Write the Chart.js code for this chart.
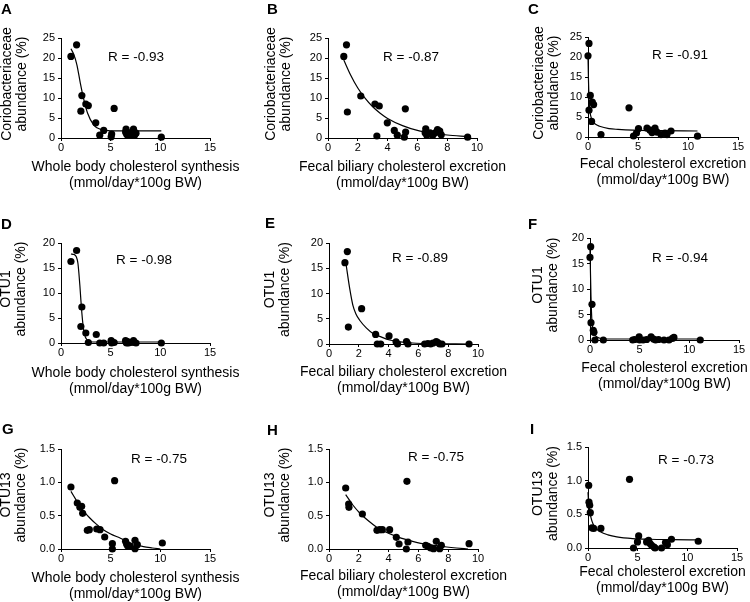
<!DOCTYPE html>
<html>
<head>
<meta charset="utf-8">
<script src="https://cdn.jsdelivr.net/npm/chart.js@4.4.1/dist/chart.umd.min.js"></script>
<style>
  html, body { margin: 0; padding: 0; background: #fff; }
  body { position: relative; width: 750px; height: 602px; overflow: hidden; }
  canvas { position: absolute; }
</style>
</head>
<body>
<canvas id="pA"></canvas><canvas id="pB"></canvas><canvas id="pC"></canvas>
<canvas id="pD"></canvas><canvas id="pE"></canvas><canvas id="pF"></canvas>
<canvas id="pG"></canvas><canvas id="pH"></canvas><canvas id="pI"></canvas>
<script>
// Coriobacteriaceae vs whole body synthesis
const aX = [1.0, 1.57, 2.0, 2.1, 2.5, 2.75, 3.5, 3.9, 4.3, 5.05, 5.1, 5.35, 6.5, 6.55, 6.6, 6.7, 6.8, 7.0, 7.2, 7.3, 7.4, 7.55, 10.1];
const aY = [20.4, 23.3, 6.7, 10.6, 8.5, 8.1, 3.8, 0.7, 1.9, 0.3, 1.0, 7.4, 1.5, 2.2, 1.0, 0.7, 1.3, 0.7, 1.5, 2.2, 0.7, 1.2, 0.2];
const aFitX = [1.0, 1.3, 1.6, 1.94, 2.28, 2.68, 3.28, 3.95, 4.5, 5.0, 7.0, 10.1];
const aFitY = [22.3, 20.8, 18.3, 13.8, 9.8, 6.2, 3.3, 2.2, 1.9, 1.8, 1.8, 1.8];

// Coriobacteriaceae vs fecal biliary excretion
const bX = [1.06, 1.24, 1.3, 2.2, 3.15, 3.44, 3.28, 3.98, 4.45, 4.65, 5.12, 5.21, 5.19, 6.56, 6.52, 6.63, 6.85, 7.03, 7.2, 7.35, 7.5, 7.6, 9.37];
const bY = [20.4, 23.3, 6.5, 10.5, 8.5, 8.0, 0.5, 3.8, 1.9, 0.7, 0.2, 1.5, 7.3, 2.3, 1.3, 0.7, 1.3, 0.7, 1.3, 2.1, 1.7, 0.8, 0.2];
const bFitX = [1.06, 1.5, 2.0, 2.5, 3.0, 3.5, 4.0, 5.0, 6.0, 7.0, 8.0, 9.37];
const bFitY = [19.5, 15.9, 12.5, 9.9, 7.8, 6.2, 4.9, 3.1, 1.9, 1.2, 0.75, 0.35];

// Coriobacteriaceae vs fecal cholesterol excretion
const cX = [0.1, 0.0, 0.23, 0.1, 0.43, 0.56, 0.36, 1.3, 4.1, 4.55, 4.85, 5.05, 5.9, 6.2, 6.4, 6.6, 6.7, 6.9, 7.3, 7.7, 7.9, 8.3, 10.95];
const cY = [23.4, 20.3, 10.4, 6.7, 8.7, 8.1, 3.9, 0.6, 7.3, 0.25, 1.0, 2.1, 2.2, 1.7, 1.1, 1.8, 2.2, 1.2, 0.6, 1.0, 0.6, 1.5, 0.2];
const cFitX = [0.0, 0.05, 0.1, 0.2, 0.35, 0.5, 0.8, 1.15, 2.1, 3.0, 4.5, 7.0, 10.95];
const cFitY = [20.2, 14.0, 9.5, 6.3, 4.6, 3.8, 3.1, 2.7, 2.1, 1.9, 1.7, 1.6, 1.5];

// OTU1
const dX = [1.0, 1.57, 2.1, 2.0, 2.5, 3.55, 2.75, 3.9, 4.3, 5.05, 5.1, 5.35, 6.5, 6.55, 6.6, 6.7, 6.8, 7.0, 7.2, 7.3, 7.4, 7.55, 10.1];
const dY = [16.3, 18.5, 7.2, 3.3, 2.0, 1.7, 0.1, 0.0, 0.0, 0.5, 0.0, 0.1, 0.5, 0.2, 0.0, 0.3, 0.0, 0.1, 0.2, 0.5, 0.1, 0.0, 0.0];
const dFitX = [1.0, 1.3, 1.55, 1.7, 1.8, 1.9, 2.0, 2.1, 2.2, 2.3, 2.45, 2.6, 2.8, 3.2, 5.0, 10.1];
const dFitY = [17.8, 17.7, 17.2, 16.0, 14.0, 11.5, 8.6, 6.0, 3.9, 2.4, 1.2, 0.7, 0.35, 0.2, 0.2, 0.2];

const eX = [1.07, 1.23, 1.3, 2.19, 3.13, 3.24, 3.47, 4.03, 4.5, 4.6, 5.2, 5.3, 6.42, 6.64, 6.82, 6.98, 7.2, 7.3, 7.43, 7.58, 9.4];
const eY = [16.1, 18.3, 3.35, 7.0, 1.9, 0.0, 0.0, 1.6, 0.45, 0.0, 0.5, 0.0, 0.0, 0.1, 0.0, 0.2, 0.5, 0.3, 0.0, 0.0, 0.0];
const eFitX = [1.16, 1.4, 1.6, 1.8, 2.06, 2.5, 2.95, 3.5, 4.07, 5.0, 5.86, 7.0, 8.5, 9.44];
const eFitY = [15.5, 10.8, 7.7, 6.0, 4.7, 3.2, 2.1, 1.4, 0.8, 0.35, 0.15, 0.06, 0.02, 0.0];

const fX = [0.07, 0.0, 0.2, 0.1, 0.33, 0.4, 0.5, 1.34, 4.3, 4.5, 4.95, 5.0, 5.35, 5.7, 6.15, 6.4, 6.6, 6.9, 7.45, 7.95, 8.3, 8.45, 11.1];
const fY = [18.3, 16.2, 7.0, 3.4, 1.9, 1.5, 0.0, 0.0, 0.0, 0.1, 0.6, 0.0, 0.0, 0.1, 0.6, 0.2, 0.0, 0.1, 0.0, 0.0, 0.3, 0.5, 0.0];
const fFitX = [0.0, 0.05, 0.1, 0.15, 0.2, 0.27, 0.4, 0.67, 1.0, 1.67, 5.0, 11.1];
const fFitY = [17.8, 13.0, 8.5, 5.5, 3.5, 2.3, 1.2, 0.65, 0.35, 0.2, 0.2, 0.2];

// OTU13
const gX = [1.0, 1.64, 1.9, 2.08, 2.18, 2.65, 2.85, 3.6, 3.93, 4.4, 5.17, 5.17, 5.4, 6.5, 6.6, 6.7, 6.95, 7.45, 7.45, 7.68, 10.2];
const gY = [0.93, 0.69, 0.625, 0.64, 0.535, 0.28, 0.29, 0.3, 0.29, 0.18, 0.08, 0.0, 1.025, 0.115, 0.075, 0.05, 0.04, 0.13, 0.005, 0.065, 0.09];
const gFitX = [1.0, 1.5, 1.9, 2.4, 2.9, 3.5, 4.26, 5.0, 5.94, 6.6, 7.28, 8.3, 9.2, 10.0];
const gFitY = [0.865, 0.74, 0.64, 0.545, 0.465, 0.38, 0.29, 0.225, 0.165, 0.12, 0.075, 0.035, 0.015, 0.0];

const hX = [1.12, 1.32, 1.34, 2.24, 3.22, 3.4, 3.58, 4.07, 4.52, 4.7, 5.23, 5.19, 5.3, 6.49, 6.64, 6.82, 7.02, 7.2, 7.43, 7.54, 9.4];
const hY = [0.915, 0.675, 0.625, 0.525, 0.28, 0.29, 0.29, 0.29, 0.175, 0.075, 1.015, 0.0, 0.105, 0.055, 0.04, 0.015, 0.005, 0.115, 0.005, 0.055, 0.08];
const hFitX = [1.12, 1.6, 2.06, 2.6, 3.18, 3.8, 4.52, 5.2, 5.86, 6.5, 7.2, 7.9, 8.55, 9.33];
const hFitY = [0.815, 0.66, 0.54, 0.43, 0.33, 0.255, 0.19, 0.14, 0.1, 0.072, 0.05, 0.03, 0.015, 0.0];

const iX = [0.07, 0.1, 0.17, 0.23, 0.4, 0.57, 1.3, 4.18, 4.58, 4.98, 5.1, 5.9, 6.1, 6.25, 6.4, 6.65, 6.75, 7.4, 7.8, 7.99, 8.4, 11.1];
const iY = [0.93, 0.68, 0.635, 0.525, 0.3, 0.29, 0.29, 1.02, 0.0, 0.09, 0.18, 0.09, 0.115, 0.065, 0.04, 0.015, 0.0, 0.0, 0.08, 0.05, 0.13, 0.1];
const iFitX = [0.0, 0.05, 0.17, 0.3, 0.5, 0.8, 1.24, 2.0, 2.9, 4.5, 6.25, 8.5, 11.16];
const iFitY = [0.83, 0.7, 0.56, 0.45, 0.36, 0.29, 0.24, 0.195, 0.165, 0.14, 0.13, 0.125, 0.12];

const xTitles = [
  ["Whole body cholesterol synthesis", "(mmol/day*100g BW)"],
  ["Fecal biliary cholesterol excretion", "(mmol/day*100g BW)"],
  ["Fecal cholesterol excretion", "(mmol/day*100g BW)"]
];
const yTitles = [
  ["Coriobacteriaceae", "abundance (%)"],
  ["OTU1", "abundance (%)"],
  ["OTU13", "abundance (%)"]
];
const rLabels = ["R = -0.93", "R = -0.87", "R = -0.91", "R = -0.98", "R = -0.89", "R = -0.94", "R = -0.75", "R = -0.75", "R = -0.73"];
const letters = ["A", "B", "C", "D", "E", "F", "G", "H", "I"];

const FONT = "'Liberation Sans', Arial, Helvetica, sans-serif";
Chart.defaults.font.family = FONT;
Chart.defaults.color = "#000";

// canvas boxes [left, width] per column, [top, height] per row
const colBox = [[0, 250], [250, 265], [500, 250]];
const rowBox = [[0, 200], [200, 200], [400, 202]];

// per panel: plot area [L, R, T, B], x title 2nd line centre y, y title 1st line centre x, letter pos, R label pos
const layout = [
  { plot: [61, 210, 38, 138], xt2: 183, yt1: 7.5, let: [1, 14], r: [136, 57] },
  { plot: [328, 477, 38, 138], xt2: 183, yt1: 271, let: [267, 14], r: [411, 57] },
  { plot: [588, 738, 37, 137], xt2: 180, yt1: 539, let: [528, 14], r: [680, 55] },
  { plot: [61, 210, 243, 343], xt2: 389, yt1: 6.5, let: [1, 229], r: [144, 260] },
  { plot: [329, 478, 243, 344], xt2: 388, yt1: 270, let: [265, 228], r: [420, 258] },
  { plot: [590, 739, 238, 340], xt2: 384, yt1: 538, let: [528, 229], r: [680, 258] },
  { plot: [61, 210, 449, 549], xt2: 594, yt1: 6.5, let: [2, 434], r: [159, 459] },
  { plot: [329, 478, 449, 549], xt2: 592, yt1: 270, let: [267, 435], r: [436, 457] },
  { plot: [588, 737, 447, 548], xt2: 588, yt1: 538, let: [530, 434], r: [686, 460] }
];

const series = [
  [aX, aY, aFitX, aFitY], [bX, bY, bFitX, bFitY], [cX, cY, cFitX, cFitY],
  [dX, dY, dFitX, dFitY], [eX, eY, eFitX, eFitY], [fX, fY, fFitX, fFitY],
  [gX, gY, gFitX, gFitY], [hX, hY, hFitX, hFitY], [iX, iY, iFitX, iFitY]
];
const yMax = [25, 20, 1.5];
const yStep = [5, 5, 0.5];
const xMax = [15, 10, 15];
const xStep = [5, 2, 5];

// panel letter, R value and the two-line axis titles (drawn without width squeeze)
const panelText = {
  id: "panelText",
  afterDraw(chart, args, o) {
    const ctx = chart.ctx;
    const area = chart.chartArea;
    ctx.save();
    ctx.fillStyle = "#000";

    ctx.font = "bold 15px " + FONT;
    ctx.textAlign = "left";
    ctx.textBaseline = "alphabetic";
    ctx.fillText(o.letter, o.letterPos[0], o.letterPos[1]);

    ctx.font = "13.5px " + FONT;
    ctx.textAlign = "center";
    ctx.textBaseline = "middle";
    ctx.fillText(o.r, o.rPos[0], o.rPos[1]);

    ctx.font = "14px " + FONT;
    const xc = (area.left + area.right) / 2;
    ctx.fillText(o.xTitle[0], xc, o.xTitleY2 - 16);
    ctx.fillText(o.xTitle[1], xc, o.xTitleY2);

    const yc = (area.top + area.bottom) / 2 - 4;
    ctx.translate(o.yTitleX1, yc);
    ctx.rotate(-Math.PI / 2);
    ctx.fillText(o.yTitle[0], 0, 0);
    ctx.fillText(o.yTitle[1], 0, 15);
    ctx.restore();
  }
};

const toPoints = (xs, ys) => xs.map((x, i) => ({ x: x, y: ys[i] }));

letters.forEach((letter, k) => {
  const row = Math.floor(k / 3), col = k % 3;
  const [cx, w] = colBox[col];
  const [cy, h] = rowBox[row];
  const lay = layout[k];
  const [L, R, T, B] = lay.plot;
  const [xs, ys, fxs, fys] = series[k];

  const canvas = document.getElementById("p" + letter);
  canvas.width = w;
  canvas.height = h;
  canvas.style.left = cx + "px";
  canvas.style.top = cy + "px";

  new Chart(canvas, {
    type: "scatter",
    data: {
      datasets: [
        {
          data: toPoints(fxs, fys),
          showLine: true,
          borderColor: "#000",
          borderWidth: 1.2,
          pointRadius: 0,
          cubicInterpolationMode: "monotone",
          clip: false
        },
        {
          data: toPoints(xs, ys),
          backgroundColor: "#000",
          borderColor: "#000",
          pointRadius: 3.6,
          borderWidth: 0,
          clip: false
        }
      ]
    },
    options: {
      responsive: false,
      animation: false,
      devicePixelRatio: 1,
      layout: { padding: { left: 0, top: T - cy, right: cx + w - R, bottom: 0 } },
      plugins: {
        legend: { display: false },
        tooltip: { enabled: false },
        panelText: {
          letter: letter,
          letterPos: [lay.let[0] - cx, lay.let[1] - cy],
          r: rLabels[k],
          rPos: [lay.r[0] - cx, lay.r[1] - cy],
          xTitle: xTitles[col],
          xTitleY2: lay.xt2 - cy,
          yTitle: yTitles[row],
          yTitleX1: lay.yt1 - cx
        }
      },
      scales: {
        x: {
          type: "linear",
          min: 0,
          max: xMax[col],
          ticks: { stepSize: xStep[col], font: { size: 11, lineHeight: 1.1 }, padding: 1, color: "#000" },
          grid: { drawOnChartArea: false, drawTicks: true, tickLength: 3, color: "#000" },
          border: { display: true, color: "#000", width: 1 },
          title: { display: false },
          afterFit: s => { s.height = cy + h - B; }
        },
        y: {
          type: "linear",
          min: 0,
          max: yMax[row],
          ticks: {
            stepSize: yStep[row],
            font: { size: 11 },
            padding: 3,
            color: "#000",
            callback: v => row === 2 ? v.toFixed(1) : v
          },
          grid: { drawOnChartArea: false, drawTicks: true, tickLength: 3, color: "#000" },
          border: { display: true, color: "#000", width: 1 },
          title: { display: false },
          afterFit: s => { s.width = L - cx; }
        }
      }
    },
    plugins: [panelText]
  });
});
</script>
</body>
</html>
